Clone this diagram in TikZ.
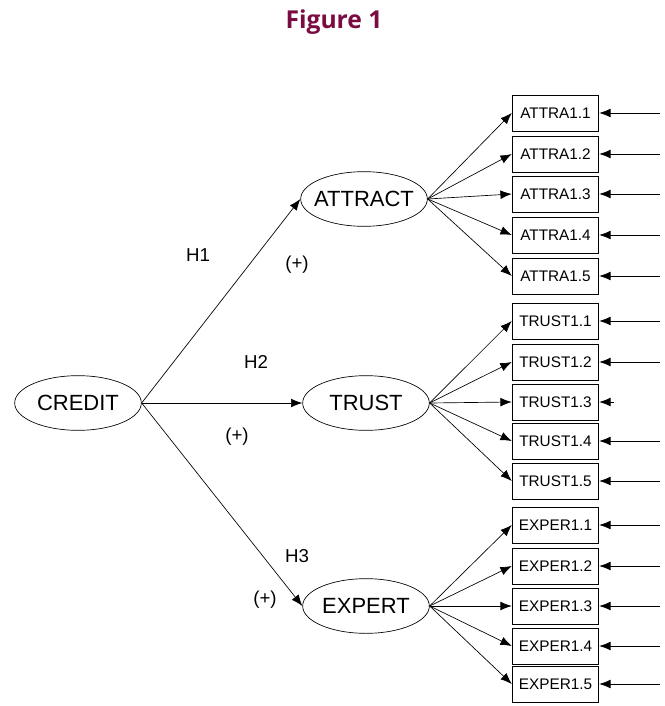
\documentclass[tikz,border=0pt]{standalone}
\usepackage{fontspec}
\setmainfont{Liberation Sans}
\newfontfamily\titlefont{Open Sans}
\usetikzlibrary{arrows.meta,shapes.geometric}
\definecolor{titlered}{HTML}{7A0C42}
\tikzset{
  latent/.style={ellipse,draw,line width=0.5pt,minimum width=95pt,minimum height=41pt,inner xsep=-5pt,inner ysep=0pt,font=\fontsize{16.5}{17}\selectfont},
  indic/.style={rectangle,draw,line width=0.6pt,minimum width=65pt,minimum height=27pt,inner sep=0pt,font=\fontsize{11.5}{12}\selectfont},
  path/.style={line width=0.5pt,-{Latex[length=8.5pt,width=6.5pt]}},
  lbl/.style={font=\fontsize{14}{15}\selectfont},
}
\begin{document}
\begin{tikzpicture}[x=0.75pt,y=-0.75pt]
\useasboundingbox (0,0) rectangle (664,706);
\node[font=\titlefont\bfseries\fontsize{18.5}{19}\selectfont,text=titlered] (title) at (334,22) {Figure 1};
% latent variables
\node[latent] (credit) at (78,403) {CREDIT};
\node[latent] (attract) at (364,199) {ATTRACT};
\node[latent] (trust) at (366,403) {TRUST};
\node[latent] (expert) at (366,606) {EXPERT};
% structural paths
\draw[path] (credit.east) -- (attract.west);
\draw[path] (credit.east) -- (trust.west);
\draw[path] (credit.east) -- (expert.west);
\node[lbl] (h1) at (198,255) {H1};
\node[lbl] (p1) at (297,265) {(+)};
\node[lbl] (h2) at (256,362) {H2};
\node[lbl] (p2) at (237,437) {(+)};
\node[lbl] (h3) at (297,556) {H3};
\node[lbl] (p3) at (265,600) {(+)};
% indicators
\foreach \n/\y in {1/113,2/154,3/194,4/235,5/276}{
  \node[indic] (a\n) at (555.5,\y) {ATTRA1.\n};
  \draw[path] (attract.east) -- (a\n.west);
  \coordinate (ea\n) at (660,\y);
  \draw[path] (ea\n) -- (a\n.east);
}
\foreach \n/\y in {1/321,2/362,3/402,4/441,5/481}{
  \node[indic] (t\n) at (555.5,\y) {TRUST1.\n};
  \draw[path] (trust.east) -- (t\n.west);
}
\foreach \n in {1,2,4,5}{
  \coordinate (et\n) at (660,0 |- t\n.east);
  \draw[path] (et\n) -- (t\n.east);
}
\coordinate (et3) at (614,402);
\draw[path] (et3) -- (t3.east);
\foreach \n/\y in {1/525,2/566,3/606,4/646,5/684}{
  \node[indic] (x\n) at (555.5,\y) {EXPER1.\n};
  \draw[path] (expert.east) -- (x\n.west);
  \coordinate (ex\n) at (660,\y);
  \draw[path] (ex\n) -- (x\n.east);
}
\end{tikzpicture}
\end{document}
